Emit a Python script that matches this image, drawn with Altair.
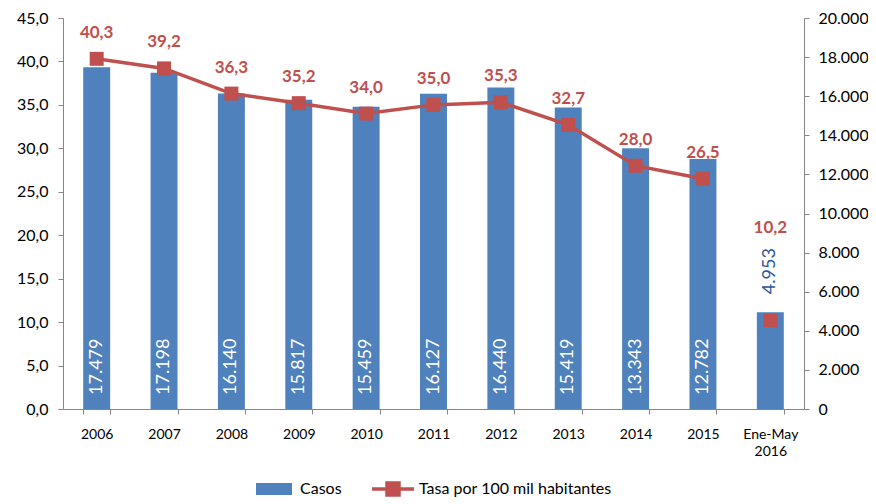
import altair as alt
import pandas as pd

categorias = ["2006", "2007", "2008", "2009", "2010", "2011", "2012", "2013", "2014", "2015", "Ene-May 2016"]
casos = [17479, 17198, 16140, 15817, 15459, 16127, 16440, 15419, 13343, 12782, 4953]
tasa = [40.3, 39.2, 36.3, 35.2, 34.0, 35.0, 35.3, 32.7, 28.0, 26.5, 10.2]
series = ["Casos", "Tasa por 100 mil habitantes"]

BLUE = "#4F81BD"
RED = "#C0504D"
DARKBLUE = "#2C5696"
GRAY = "#868686"
FONT = "Lato"
LAST = "Ene-May 2016"

df = pd.DataFrame({"anio": categorias, "casos": casos, "tasa": tasa})

yR = alt.Scale(domain=[0, 20000], nice=False, zero=True)
yL = alt.Scale(domain=[0, 45], nice=False, zero=True)

x_enc = alt.X(
    "anio:N", sort=categorias, title=None,
    scale=alt.Scale(paddingInner=0.6, paddingOuter=0.3),
    axis=alt.Axis(labelAngle=0, tickBand="extent", tickSize=5, labelPadding=13,
                  labelFontSize=14, labelFont=FONT, labelColor="black",
                  domainColor=GRAY, tickColor=GRAY, labelExpr="split(datum.label, ' ')",
                  labelLineHeight=17),
)

base = alt.Chart(df).encode(x=x_enc).transform_calculate(
    lab_casos="replace(format(datum.casos, ','), ',', '.')",
    lab_tasa="replace(format(datum.tasa, '.1f'), '.', ',')",
    s_casos=f"'{series[0]}'",
    s_tasa=f"'{series[1]}'",
)

right_axis = alt.Axis(orient="right", values=list(range(0, 20001, 2000)), grid=False,
                      labelExpr="replace(format(datum.value, ','), ',', '.')",
                      tickSize=5, labelPadding=9, labelFontSize=16, labelFont=FONT,
                      labelColor="black", domainColor=GRAY, tickColor=GRAY, title=None)
left_axis = alt.Axis(orient="left", values=list(range(0, 46, 5)), grid=False,
                     labelExpr="replace(format(datum.value, '.1f'), '.', ',')",
                     tickSize=5, labelPadding=10, labelFontSize=16, labelFont=FONT,
                     labelColor="black", domainColor=GRAY, tickColor=GRAY, title=None)

bars = base.mark_bar().encode(
    y=alt.Y("casos:Q", scale=yR, axis=right_axis),
    color=alt.Color("s_casos:N", scale=alt.Scale(domain=[series[0]], range=[BLUE]),
                    legend=alt.Legend(orient="none", legendX=203, legendY=463, title=None,
                                      symbolType="M-3,-1H3V1H-3Z", symbolSize=144,
                                      symbolStrokeWidth=0, labelOffset=18, padding=0,
                                      labelFontSize=16, labelFont=FONT, labelColor="black",
                                      labelLimit=300)),
)

bar_labels = base.transform_filter(alt.datum.anio != LAST).mark_text(
    angle=270, align="left", baseline="middle", dx=14, color="white",
    fontSize=18, font=FONT,
).encode(y=alt.Y(datum=0, scale=yR, axis=None), text="lab_casos:N")

bar_label_last = base.transform_filter(alt.datum.anio == LAST).mark_text(
    angle=270, align="left", baseline="middle", dx=18, color=DARKBLUE,
    fontSize=18, font=FONT,
).encode(y=alt.Y("casos:Q", scale=yR, axis=None), text="lab_casos:N")

line = base.transform_filter(alt.datum.anio != LAST).mark_line(strokeWidth=3.5).encode(
    y=alt.Y("tasa:Q", scale=yL, axis=left_axis),
    color=alt.Color("s_tasa:N",
                    scale=alt.Scale(domain=[series[1]], range=[RED]),
                    legend=alt.Legend(orient="none", legendX=322, legendY=463, title=None,
                                      symbolType="M-3.5,0H3.5M-1,-1H1V1H-1Z", symbolSize=144,
                                      symbolStrokeWidth=3.5, symbolFillColor=RED,
                                      labelOffset=18, padding=0,
                                      labelFontSize=16, labelFont=FONT, labelColor="black",
                                      labelLimit=300)),
)

points = base.mark_point(shape="square", filled=True, size=196, color=RED, opacity=1).encode(
    y=alt.Y("tasa:Q", scale=yL, axis=None)
)

rate_labels = base.transform_filter(alt.datum.anio != LAST).mark_text(
    dy=-26, color=RED, fontSize=17, fontWeight="bold", font=FONT, baseline="middle",
).encode(y=alt.Y("tasa:Q", scale=yL, axis=None), text="lab_tasa:N")

rate_label_last = base.transform_filter(alt.datum.anio == LAST).mark_text(
    dy=-92, color=RED, fontSize=17, fontWeight="bold", font=FONT, baseline="middle",
).encode(y=alt.Y("tasa:Q", scale=yL, axis=None), text="lab_tasa:N")

chart = alt.layer(
    bars, bar_labels, bar_label_last, line, points, rate_labels, rate_label_last
).resolve_scale(y="independent", color="independent").properties(
    width=741, height=391,
    autosize=alt.AutoSizeParams(type="none"),
    padding={"left": 55, "top": 10, "right": 64, "bottom": 90},
).configure_view(stroke=None)

chart.save("out.html", embed_options={"renderer": "svg", "actions": False})
